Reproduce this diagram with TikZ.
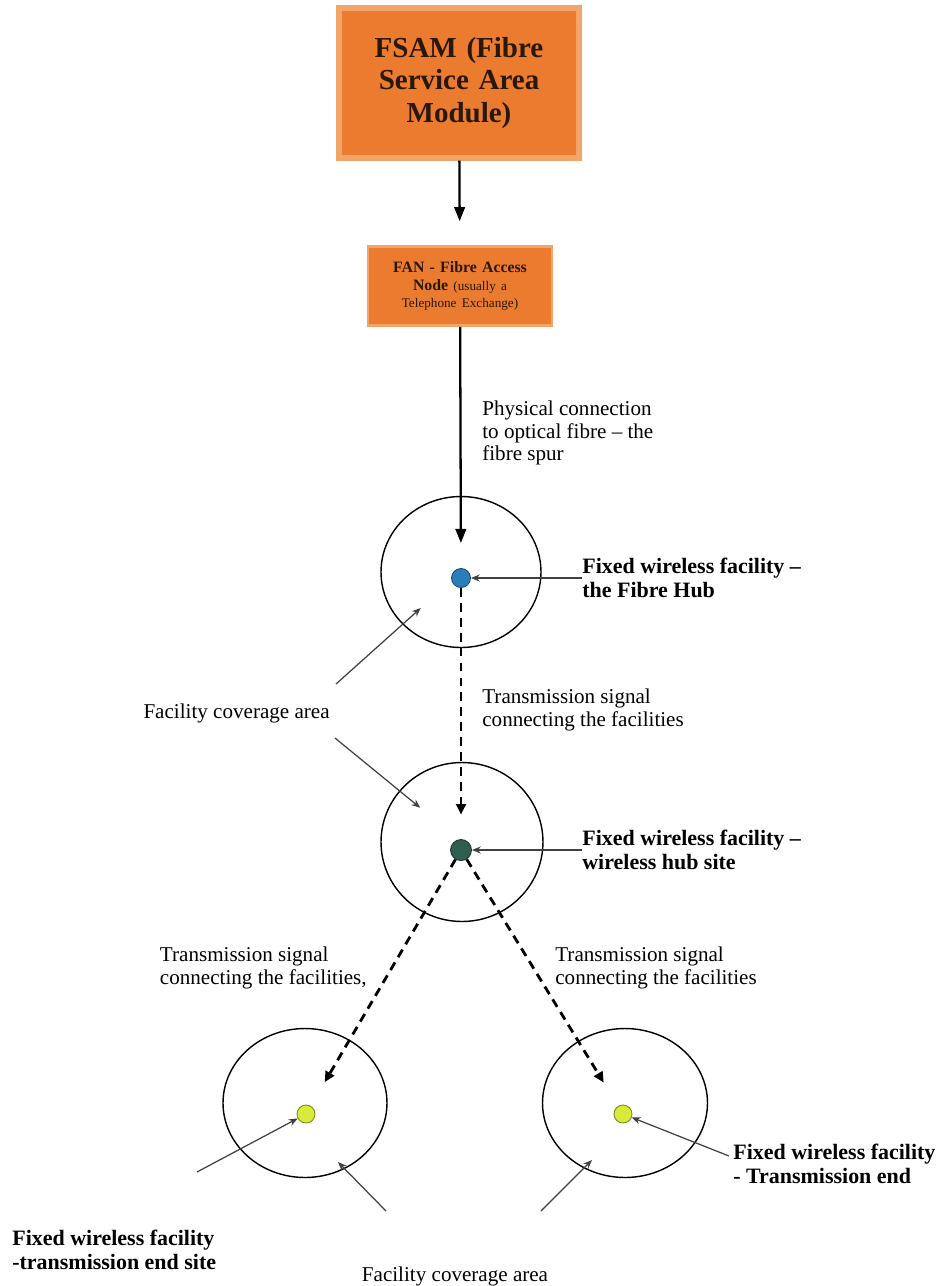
\documentclass[tikz,border=0pt]{standalone}
\usepackage{fontspec}
\setmainfont{Liberation Serif}
\usetikzlibrary{shapes.geometric,arrows.meta}

\definecolor{fsamorange}{HTML}{EA7B2F}
\definecolor{fsamedge}{HTML}{F3A468}
\definecolor{boxtext}{HTML}{2B1708}
\definecolor{hubblue}{HTML}{2A7DB8}
\definecolor{hubgreen}{HTML}{2E5E50}
\definecolor{endyellow}{HTML}{D8EA3C}
\definecolor{endolive}{HTML}{7E8A1C}

\tikzstyle{module} = [rectangle, fill=fsamorange, draw=fsamedge, line width=3pt, text=boxtext, text width=4.3cm, align=center, minimum width=4.8cm, minimum height=3cm, font=\fontsize{16.5}{18.5}\selectfont\bfseries]
\tikzstyle{access} = [rectangle, fill=fsamorange, draw=fsamedge, line width=1.5pt, text=boxtext, text width=3.3cm, align=center, minimum width=3.68cm, minimum height=1.58cm, font=\fontsize{9}{10}\selectfont\bfseries]
\tikzstyle{area} = [ellipse, draw, line width=0.8pt, inner sep=0pt]
\tikzstyle{site} = [circle, draw, line width=0.5pt, inner sep=0pt]
\tikzstyle{note} = [align=left, inner sep=0pt, font=\fontsize{12}{13}\selectfont]
\tikzstyle{tag} = [align=left, inner sep=0pt, font=\fontsize{12.5}{13.5}\selectfont\bfseries]
\tikzstyle{feed} = [-{Triangle[length=8pt,width=6pt]}, line width=1.3pt]
\tikzstyle{link} = [-{Triangle[length=6pt,width=5.5pt]}, line width=1.6pt, dash pattern=on 5pt off 3.5pt]
\tikzstyle{point} = [-{Stealth[length=5pt,width=4pt]}, line width=0.7pt, draw=black!75]

\begin{document}
\begin{tikzpicture}[x=0.02cm, y=-0.02cm]
	\path[use as bounding box, fill=white] (0,0) rectangle (938,1286);

	\node[module] (fsam) at (459,83) {FSAM (Fibre Service Area Module)};
	\node[access] (fan) at (460,286) {FAN - Fibre Access\\Node {\mdseries\fontsize{7.5}{9}\selectfont (usually a}\\{\mdseries\fontsize{7.5}{9}\selectfont Telephone Exchange)}};

	\node[area, minimum width=3.2cm, minimum height=3.02cm] (c1) at (461,572) {};
	\node[area, minimum width=3.24cm, minimum height=3.18cm] (c2) at (462,842) {};
	\node[area, minimum width=3.28cm, minimum height=2.98cm] (c3) at (305,1103) {};
	\node[area, minimum width=3.3cm, minimum height=2.98cm] (c4) at (625,1103) {};

	\node[site, fill=hubblue, draw=hubblue!60!black, minimum size=0.38cm] (s1) at (461,578) {};
	\node[site, fill=hubgreen, draw=hubgreen!60!black, minimum size=0.42cm] (s2) at (461,850) {};
	\node[site, fill=endyellow, draw=endolive, minimum size=0.36cm] (s3) at (306,1114) {};
	\node[site, fill=endyellow, draw=endolive, minimum size=0.36cm] (s4) at (623,1114) {};

	\node[note, anchor=west] (spur) at (482,433) {Physical connection\\to optical fibre -- the\\fibre spur};
	\node[tag, anchor=west] (hubtag) at (582,578) {Fixed wireless facility --\\the Fibre Hub};
	\node[note, anchor=west] (sigmid) at (482,710) {Transmission signal\\connecting the facilities};
	\node[note, anchor=east] (covmid) at (330,713) {Facility coverage area};
	\node[tag, anchor=west] (wltag) at (582,850) {Fixed wireless facility --\\wireless hub site};
	\node[note, anchor=east] (sigleft) at (367,968) {Transmission signal\\connecting the facilities,};
	\node[note, anchor=west] (sigright) at (555,968) {Transmission signal\\connecting the facilities};
	\node[tag, anchor=west] (endright) at (733,1164) {Fixed wireless facility\\- Transmission end};
	\node[tag, anchor=west] (endleft) at (12,1250) {Fixed wireless facility\\-transmission end site};
	\node[note] (covbot) at (455,1276) {Facility coverage area};

	\coordinate (covA) at (336,684);
	\coordinate (covB) at (335,738);
	\coordinate (leftfoot) at (197,1172);
	\coordinate (rightfoot) at (729,1156);
	\coordinate (botA) at (386,1211);
	\coordinate (botAend) at (338,1162);
	\coordinate (botB) at (541,1211);
	\coordinate (botBend) at (592,1160);

	\draw[feed, shorten >=0.48cm] (fsam) -- (fan);
	\draw[feed, shorten >=0.58cm] (fan) -- (c1.center);
	\draw[link, shorten >=0.49cm] (s1) -- (s2);
	\draw[link, shorten >=0.55cm] (s2) -- (s3);
	\draw[link, shorten >=0.55cm] (s2) -- (s4);

	\draw[point] (hubtag.west) -- (s1);
	\draw[point] (wltag.west) -- (s2);
	\draw[point, shorten >=1.08cm] (covA) -- (c1.center);
	\draw[point, shorten >=1.08cm] (covB) -- (c2.center);
	\draw[point] (leftfoot) -- (s3);
	\draw[point] (rightfoot) -- (s4);
	\draw[point] (botA) -- (botAend);
	\draw[point] (botB) -- (botBend);
\end{tikzpicture}
\end{document}
